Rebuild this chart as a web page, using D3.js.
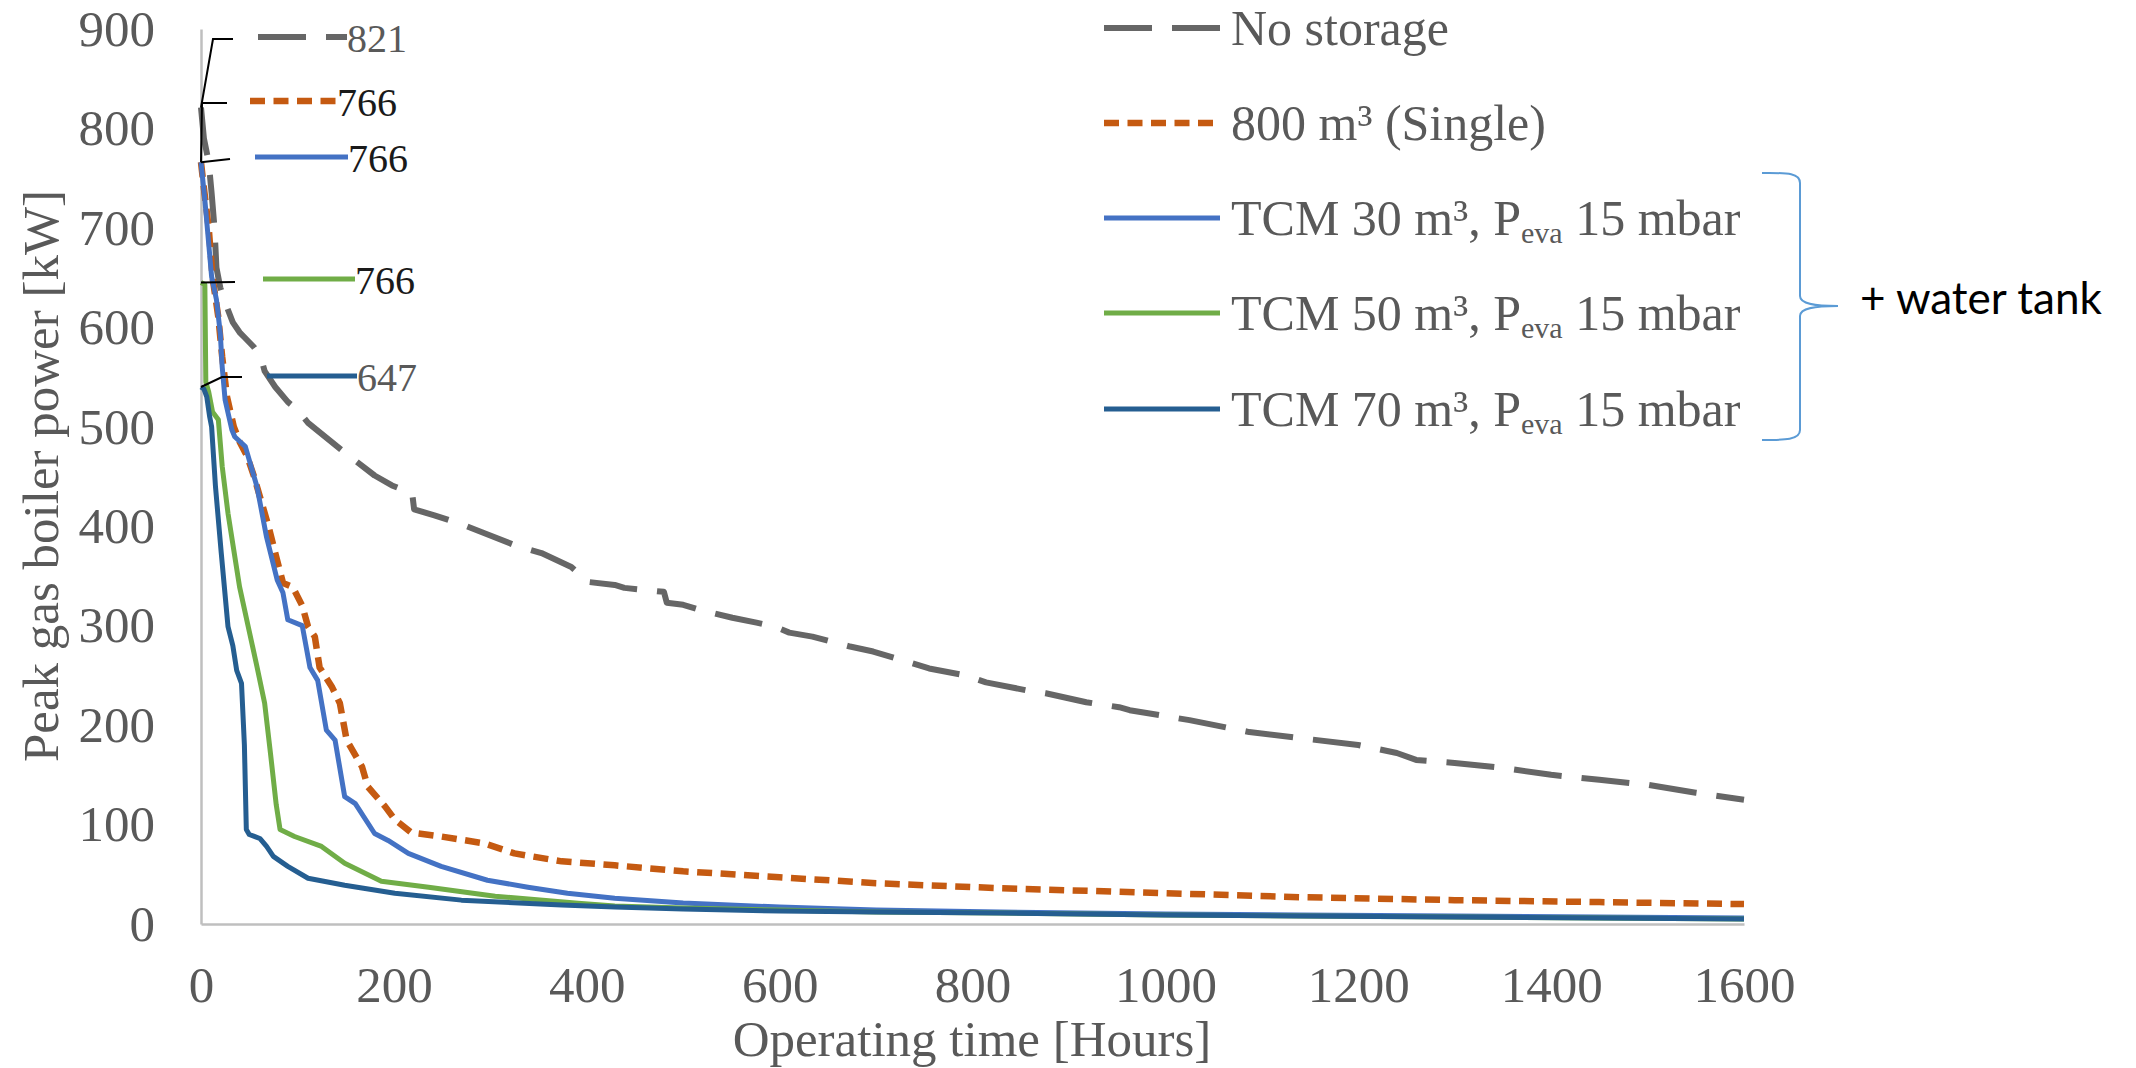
<!DOCTYPE html>
<html><head><meta charset="utf-8">
<script src="https://cdn.jsdelivr.net/npm/d3@7"></script>
<style>body{margin:0;background:#fff}svg{display:block}</style>
</head><body>
<script>
// ---------------- DATA ----------------
const xTicks = [0,200,400,600,800,1000,1200,1400,1600];
const yTicks = [0,100,200,300,400,500,600,700,800,900];
const seriesNames = ["No storage","800 m³ (Single)","TCM 30 m³","TCM 50 m³","TCM 70 m³"];
const annotationLabels = ["821","766","766","766","647"];

const noStorage = [[0,821],[3,790],[8,766],[11,735],[14,700],[16,660],[20,640],[25,625],[33,605],[40,595],[45,590],[55,580],[62,570],[66,556],[77,540],[90,525],[100,517],[111,504],[149,474],[180,451],[198,441],[219,433],[221,417],[242,411],[273,401],[294,393],[325,381],[353,373],[384,359],[401,344],[429,341],[439,338],[480,334],[483,323],[500,321],[517,316],[551,308],[576,303],[595,299],[610,293],[634,289],[673,279],[697,274],[735,263],[755,257],[793,250],[814,243],[856,235],[876,232],[918,223],[952,218],[963,215],[1025,205],[1087,193],[1139,187],[1200,180],[1240,172],[1260,165],[1300,162],[1350,157],[1400,150],[1450,145],[1500,140],[1550,132],[1600,125]];

const single800 = [[0,766],[3,740],[8,700],[12,650],[18,610],[22,570],[27,530],[34,500],[40,485],[48,470],[55,450],[61,430],[70,400],[77,373],[85,343],[95,339],[105,320],[111,299],[118,289],[123,258],[136,238],[144,222],[151,185],[167,158],[173,138],[191,118],[201,105],[218,92],[249,88],[294,81],[325,71],[374,63],[429,59],[500,53],[600,47],[700,41],[828,36],[1000,31],[1139,27],[1300,24],[1450,22],[1600,20]];

const tcm30 = [[0,766],[4,728],[7,695],[11,651],[16,628],[20,594],[22,560],[25,527],[32,497],[35,490],[46,480],[58,440],[68,389],[79,346],[85,333],[90,306],[105,300],[113,258],[121,245],[130,195],[139,185],[149,128],[160,121],[180,91],[194,84],[215,71],[249,58],[297,44],[339,37],[380,31],[429,26],[500,21],[600,17],[700,14],[828,12],[1000,10],[1139,9],[1300,8],[1450,7],[1600,6]];

const tcm50 = [[0,645],[4,643],[5,545],[8,535],[12,515],[18,507],[22,460],[28,413],[40,339],[49,299],[58,259],[66,222],[72,172],[78,120],[82,95],[97,88],[125,78],[149,61],[187,43],[236,37],[305,28],[391,21],[429,18],[500,16],[600,14],[700,12],[828,11],[1000,9],[1139,8],[1300,7],[1450,6],[1600,5]];

const tcm70 = [[0,540],[3,538],[6,530],[9,510],[11,500],[15,440],[21,373],[28,299],[33,280],[37,255],[42,242],[45,180],[47,95],[50,90],[61,86],[68,78],[75,68],[90,58],[111,46],[149,39],[201,31],[270,24],[374,19],[429,17],[500,15],[600,13],[700,12],[828,11],[1000,9],[1139,8],[1300,7],[1450,6],[1600,5]];

// ---------------- STYLE / LAYOUT ----------------
const W = 2136, H = 1068;
const serif = "'Liberation Serif','Times New Roman',serif";
const grayText = "#595959";
const styles = [
  {color:"#666666", width:6, dash:"48 20"},
  {color:"#c55a11", width:6.5, dash:"15 8.5"},
  {color:"#4472c4", width:5, dash:null},
  {color:"#70ad47", width:5, dash:null},
  {color:"#255e91", width:5, dash:null}
];
const allSeries = [noStorage, single800, tcm30, tcm50, tcm70];

const svg = d3.select("body").append("svg").attr("width", W).attr("height", H);
const x = d3.scaleLinear().domain([0,1600]).range([201,1744]);
const y = d3.scaleLinear().domain([0,900]).range([924,29]);

// axes
const xAxis = svg.append("g").attr("transform","translate(0,924)")
  .call(d3.axisBottom(x).tickValues(xTicks).tickFormat(d3.format("d")).tickSize(0).tickSizeOuter(0).tickPadding(42));
const yAxis = svg.append("g").attr("transform","translate(201,0)")
  .call(d3.axisLeft(y).tickValues(yTicks).tickFormat(d3.format("d")).tickSize(0).tickSizeOuter(0).tickPadding(46));
[xAxis, yAxis].forEach(g => {
  g.select(".domain").attr("stroke","#bfbfbf").attr("stroke-width",2.5);
  g.selectAll("text").attr("font-family", serif).attr("font-size", 51).attr("fill", grayText);
});

// axis titles
svg.append("text").attr("x", 972).attr("y", 1056).attr("text-anchor","middle")
  .attr("font-family", serif).attr("font-size", 51).attr("fill", grayText)
  .text("Operating time [Hours]");
svg.append("text").attr("transform","translate(58,476) rotate(-90)").attr("text-anchor","middle")
  .attr("font-family", serif).attr("font-size", 51).attr("fill", grayText)
  .text("Peak gas boiler power [kW]");

// series lines
const line = d3.line().x(d => x(d[0])).y(d => y(d[1]));
allSeries.forEach((data, i) => {
  const s = styles[i];
  svg.append("path").datum(data).attr("d", line)
    .attr("fill","none").attr("stroke", s.color).attr("stroke-width", s.width)
    .attr("stroke-linejoin","round")
    .attr("stroke-dasharray", s.dash);
});

// legend
const legendY = [28, 123, 218, 313, 409];
const legend = svg.append("g");
seriesNames.forEach((name, i) => {
  const s = styles[i];
  legend.append("line").attr("x1",1104).attr("x2",1220).attr("y1",legendY[i]).attr("y2",legendY[i])
    .attr("stroke", s.color).attr("stroke-width", s.width).attr("stroke-dasharray", s.dash);
  const t = legend.append("text").attr("x",1231).attr("y",legendY[i]+17)
    .attr("font-family", serif).attr("font-size", 50).attr("fill", grayText);
  if (i < 2) {
    t.text(name);
  } else {
    t.append("tspan").text(name + ", P");
    t.append("tspan").attr("font-size", 30).attr("dy", 8).text("eva");
    t.append("tspan").attr("dy", -8).text(" 15 mbar");
  }
});

// data-label style annotations at the top-left
const annKeyY = [37, 101, 157, 279, 376];
const annKeyX = [[258,347],[250,337],[255,348],[263,355],[267,357]];
const annTextColor = [grayText, "#1a1a1a", "#1a1a1a", "#1a1a1a", grayText];
const ann = svg.append("g");
annotationLabels.forEach((lab, i) => {
  const s = styles[i];
  ann.append("line").attr("x1",annKeyX[i][0]).attr("x2",annKeyX[i][1]).attr("y1",annKeyY[i]).attr("y2",annKeyY[i])
    .attr("stroke", s.color).attr("stroke-width", s.width).attr("stroke-dasharray", s.dash);
  ann.append("text").attr("x", annKeyX[i][1]).attr("y", annKeyY[i] + 15)
    .attr("font-family", serif).attr("font-size", 40).attr("fill", annTextColor[i]).text(lab);
});
// leader lines from label ticks to each curve's starting point
const startPt = i => [x(allSeries[i][0][0]), y(allSeries[i][0][1])];
const leaders = [
  [[233,39],[213,39],startPt(0)],
  [[227,103],[202,103],startPt(1)],
  [[230,159],startPt(2)],
  [[235,282],startPt(3)],
  [[242,377],[222,377],startPt(4)]
];
leaders.forEach(pts => {
  ann.append("path").attr("d", d3.line()(pts)).attr("fill","none")
    .attr("stroke","#000").attr("stroke-width",2);
});

// brace and note
svg.append("path")
  .attr("d","M1762,173 C1785,173 1800,172 1800,183 L1800,296 C1800,304 1815,306 1838,306 C1815,306 1800,308 1800,316 L1800,430 C1800,440 1785,440 1762,440")
  .attr("fill","none").attr("stroke","#5b9bd5").attr("stroke-width",2);
const note = svg.append("text").attr("x",1860).attr("y",314)
  .attr("font-family","Lato,'Open Sans',sans-serif").attr("font-size",44).attr("fill","#000")
  .text("+ water tank");
const nl = note.node().getComputedTextLength();
const sx = 242 / nl;
note.attr("transform", `translate(${1860*(1-sx)},0) scale(${sx},1)`);
</script>
</body></html>
